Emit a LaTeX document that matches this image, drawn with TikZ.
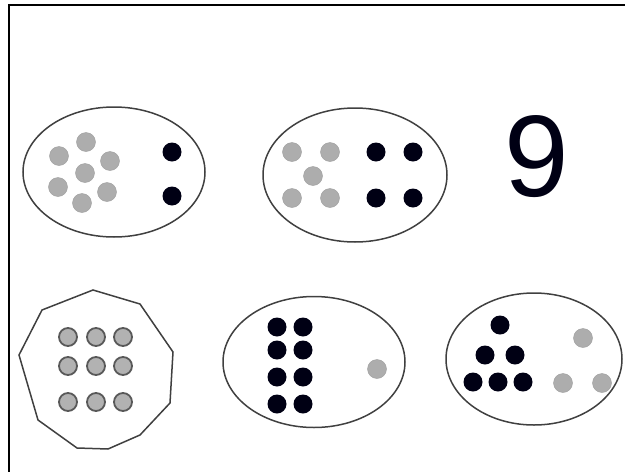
\documentclass[tikz,border=0pt]{standalone}
\usepackage{fontspec}
\setsansfont{Liberation Sans}
\usepackage{tikz}
\usetikzlibrary{shapes.geometric}

\begin{document}
\begin{tikzpicture}[x=1pt,y=-1pt,
    set/.style={draw=black!75,line width=1.5pt,ellipse,inner sep=0pt},
    grey/.style={circle,fill=black!32,draw=black!38,inner sep=0pt,minimum size=19pt},
    dark/.style={circle,fill=black!92!blue,inner sep=0pt,minimum size=19pt},
    ring/.style={circle,fill=black!30,draw=black!65,line width=1.8pt,inner sep=0pt,minimum size=18pt},
  ]
    \useasboundingbox (0,0) rectangle (625,472);
    \draw[line width=1.8pt] (9,472) -- (9,5) -- (625,5);

    % top row
    \node[set,minimum width=182pt,minimum height=130pt] (setA) at (114,172) {};
    \foreach \x/\y [count=\i] in {59/156,86/142,110/161,85/173,58/187,82/203,107/192}
      \node[grey] (a-\i) at (\x,\y) {};
    \node[dark] (a-8) at (172,152) {};
    \node[dark] (a-9) at (172,196) {};

    \node[set,minimum width=184pt,minimum height=134pt] (setB) at (355,175) {};
    \foreach \x/\y [count=\i] in {292/152,330/152,313/176,292/198,330/198}
      \node[grey] (b-\i) at (\x,\y) {};
    \foreach \x/\y [count=\i from 6] in {376/152,413/152,376/198,413/198}
      \node[dark] (b-\i) at (\x,\y) {};

    \node[font=\sffamily\fontsize{116}{116}\selectfont,text=black!92!blue] (nine) at (537,157) {9};

    % bottom row
    \draw[draw=black!75,line width=1.5pt] (93,290) -- (140,304) -- (173,352) -- (170,403)
      -- (140,435) -- (108,449) -- (77,448) -- (38,420) -- (19,355) -- (42,310) -- cycle;
    \foreach \y [count=\r] in {337,366,402}
      \foreach \x [count=\c] in {68,96,123}
        \node[ring] (c-\r-\c) at (\x,\y) {};

    \node[set,minimum width=182pt,minimum height=131pt] (setD) at (314,362) {};
    \foreach \y [count=\r] in {327,350,377,404}
      \foreach \x [count=\c] in {277,303}
        \node[dark] (d-\r-\c) at (\x,\y) {};
    \node[grey] (d-9) at (377,369) {};

    \node[set,minimum width=176pt,minimum height=132pt] (setE) at (534,359) {};
    \foreach \x/\y [count=\i] in {500/325,485/355,515/355,473/382,498/382,523/382}
      \node[dark] (e-\i) at (\x,\y) {};
    \foreach \x/\y [count=\i from 7] in {583/338,563/383,602/383}
      \node[grey] (e-\i) at (\x,\y) {};
  \end{tikzpicture}
\end{document}
